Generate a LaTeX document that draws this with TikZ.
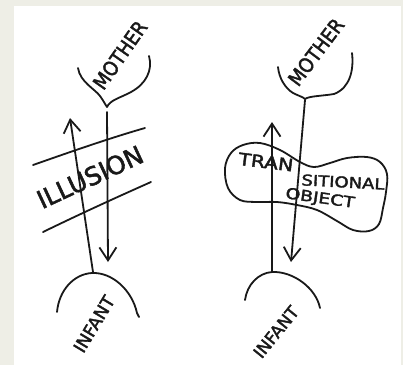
\documentclass[tikz,border=0pt]{standalone}
\usepackage{fontspec}
\setmainfont[FakeBold=2]{DejaVu Sans}
\usetikzlibrary{arrows.meta}
\definecolor{frame}{HTML}{EEEEE6}
\tikzset{
  ink/.style={line width=1.8pt, line cap=round, line join=round, black!90},
  flow/.style={ink, -{Straight Barb[length=13pt,width=17pt,line width=1.8pt]}},
  hand/.style={inner sep=0pt, text=black!90},
}
\begin{document}
\begin{tikzpicture}[x=1pt,y=-1pt]
\useasboundingbox (0,0) rectangle (403,365);
\fill[frame] (0,0) rectangle (403,365);
\fill[white] (14,6) rectangle (401,365);

% ---------- left diagram ----------
% mother cup
\draw[ink] (78,68) .. controls (80,82) and (95,89) .. (100,96)
  .. controls (103,100) and (105,104) .. (107,107)
  .. controls (110,100) and (120,98) .. (131,92)
  .. controls (146,84) and (153,70) .. (149,56);
\coordinate (mc1) at (107,112);
\node[hand, rotate=55, xscale=0.9] (mother1) at (120,55) {\fontsize{20}{20}\selectfont MOTHER};
% infant arc
\draw[ink] (57,312) .. controls (59,290) and (74,274) .. (92,273)
  .. controls (112,272) and (132,290) .. (137,313) -- (139,317);
\coordinate (ic1) at (93,272);
\node[hand, rotate=59] (infant1) at (94,324) {\fontsize{17.5}{17.5}\selectfont INFANT};
% arrows
\coordinate (up1) at (70,118);
\coordinate (dn1) at (108,262);
\draw[flow] (ic1) -- (up1);
\draw[flow] (mc1) -- (dn1);
% illusion band
\coordinate (la) at (33,165); \coordinate (lb) at (145,128);
\coordinate (lc) at (43,232); \coordinate (ld) at (151,182);
\draw[ink] (la) .. controls (70,152) and (110,138) .. (lb);
\draw[ink] (lc) .. controls (80,214) and (115,198) .. (ld);
\node[hand, rotate=25] (illusion) at (90,177) {\fontsize{25}{25}\selectfont ILLUSION};

% ---------- right diagram ----------
% mother cup
\draw[ink] (278,67) .. controls (279,78) and (285,88) .. (293,93)
  .. controls (299,96) and (303,97) .. (305,99)
  .. controls (309,96) and (322,96) .. (334,94)
  .. controls (350,88) and (354,70) .. (352,53);
\coordinate (mc2) at (305,100);
\node[hand, rotate=53, xscale=0.9] (mother2) at (316,52) {\fontsize{20}{20}\selectfont MOTHER};
% infant arc
\draw[ink] (245,300) .. controls (247,285) and (258,273) .. (272,272)
  .. controls (293,271) and (316,288) .. (320,308);
\coordinate (ic2) at (272,272);
\node[hand, rotate=51] (infant2) at (276,332) {\fontsize{17}{17}\selectfont INFANT};
% transitional object
\draw[ink] plot[smooth cycle, tension=0.6] coordinates {
  (225,168) (231,153) (243,145) (260,143) (280,150) (300,162) (314,167)
  (330,163) (347,158) (367,157) (380,162) (387,174) (386,192) (383,208)
  (379,224) (369,231) (353,230) (337,221) (317,210) (297,205) (277,202)
  (257,202) (240,200) (228,188)};
% arrows
\coordinate (up2) at (272,122);
\coordinate (dn2) at (291,262);
\draw[flow] (ic2) -- (up2);
\draw[flow] (mc2) -- (dn2);
\node[hand, rotate=-7, xscale=1.2] (tran) at (266,162) {\fontsize{17}{17}\selectfont TRAN};
\node[hand, rotate=-3, xscale=1.2] (sitional) at (343,182) {\fontsize{15}{15}\selectfont SITIONAL};
\node[hand, rotate=-8, xscale=1.25] (object) at (320,199) {\fontsize{15}{15}\selectfont OBJECT};
\end{tikzpicture}
\end{document}
